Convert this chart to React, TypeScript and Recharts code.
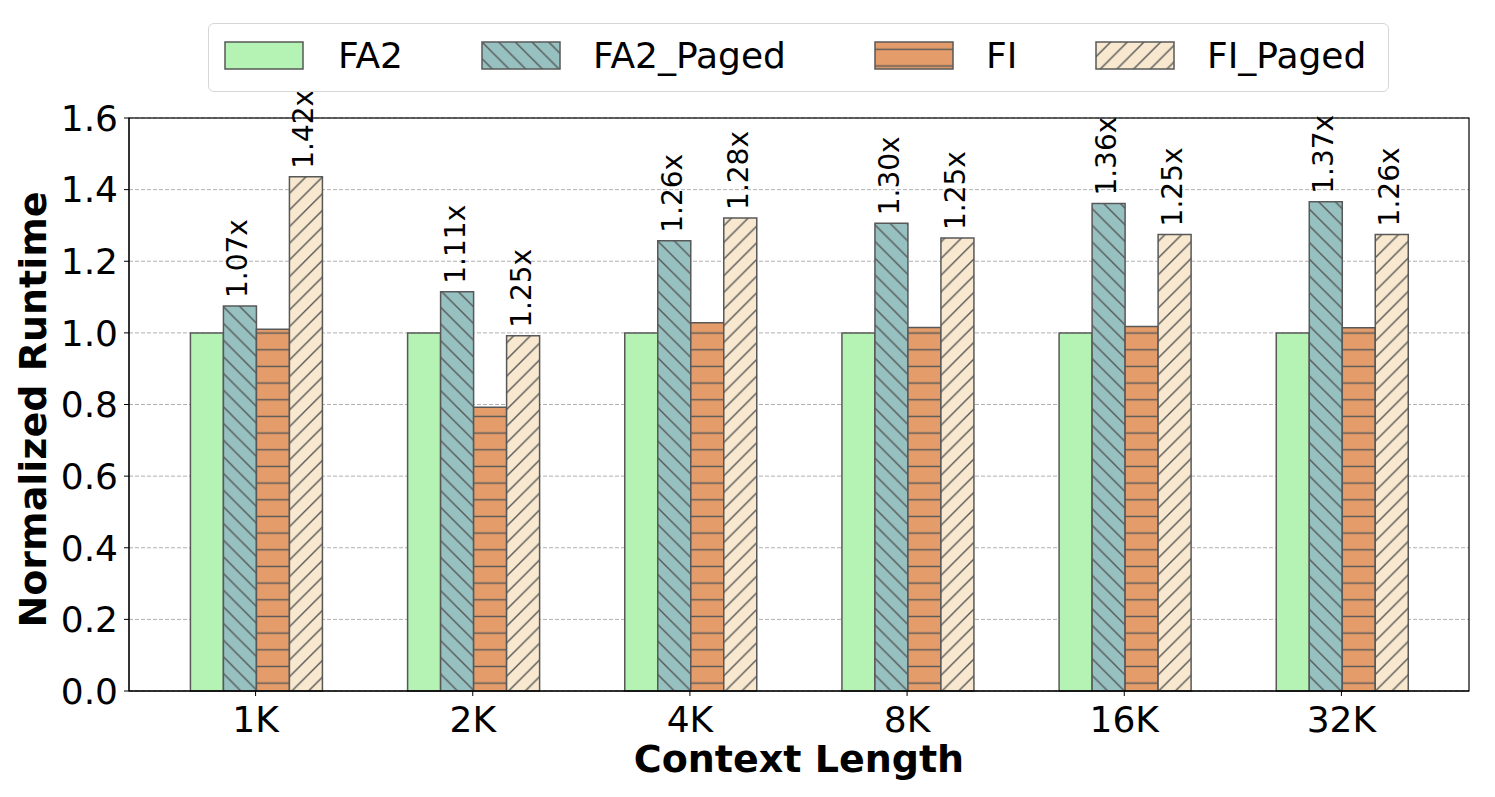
import { BarChart, Bar, XAxis, YAxis, CartesianGrid, LabelList } from 'recharts';

const categories = ['1K', '2K', '4K', '8K', '16K', '32K'];
const fa2 = [1.0, 1.0, 1.0, 1.0, 1.0, 1.0];
const fa2Paged = [1.075, 1.115, 1.257, 1.306, 1.361, 1.366];
const fi = [1.01, 0.792, 1.028, 1.015, 1.018, 1.014];
const fiPaged = [1.436, 0.992, 1.321, 1.265, 1.275, 1.275];
const fa2PagedLabels = ['1.07x', '1.11x', '1.26x', '1.30x', '1.36x', '1.37x'];
const fiPagedLabels = ['1.42x', '1.25x', '1.28x', '1.25x', '1.25x', '1.26x'];
const yTicks = [0, 0.2, 0.4, 0.6, 0.8, 1.0, 1.2, 1.4, 1.6];

const FONT = '"DejaVu Sans", sans-serif';
const EDGE = '#585858';
const HATCH = 16.67;

const W = 1479;
const H = 781;
const MARGIN = { top: 110, right: 18, left: 0, bottom: 0 };
const Y_AXIS_W = 121;
const X_AXIS_H = 98;

// series styling: fill colour + hatch kind
const series = [
  { key: 'fa2', name: 'FA2', color: '#b4f3b4', hatch: '' },
  { key: 'fa2Paged', name: 'FA2_Paged', color: '#97c1c1', hatch: '\\' },
  { key: 'fi', name: 'FI', color: '#e39c6a', hatch: '-' },
  { key: 'fiPaged', name: 'FI_Paged', color: '#f8e8cf', hatch: '/' },
];

// legend item x offsets inside the legend box (handle / text)
const legendSlots = [
  { handle: 16, text: 129 },
  { handle: 273, text: 384 },
  { handle: 666, text: 777 },
  { handle: 887, text: 998 },
];

const data = categories.map((c, i) => ({
  name: c,
  fa2: fa2[i],
  fa2Paged: fa2Paged[i],
  fi: fi[i],
  fiPaged: fiPaged[i],
  fa2PagedLabel: fa2PagedLabels[i],
  fiPagedLabel: fiPagedLabels[i],
}));

const hatchPath = (kind: string) => {
  const s = HATCH;
  if (kind === '/') {
    return `M0,${s} L${s},0 M${-s / 4},${s / 4} L${s / 4},${-s / 4} M${(3 * s) / 4},${(5 * s) / 4} L${(5 * s) / 4},${(3 * s) / 4}`;
  }
  if (kind === '\\') {
    return `M0,0 L${s},${s} M${-s / 4},${(3 * s) / 4} L${s / 4},${(5 * s) / 4} M${(3 * s) / 4},${-s / 4} L${(5 * s) / 4},${s / 4}`;
  }
  return `M0,${s / 2} L${s},${s / 2}`;
};

const Patterns = ({ prefix }: { prefix: string }) => (
  <defs>
    {series
      .filter((s) => s.hatch)
      .map((s) => (
        <pattern
          key={s.key}
          id={`${prefix}-${s.key}`}
          patternUnits="userSpaceOnUse"
          width={HATCH}
          height={HATCH}
        >
          <rect width={HATCH} height={HATCH} fill={s.color} />
          <path d={hatchPath(s.hatch)} stroke={EDGE} strokeWidth={1.4} fill="none" />
        </pattern>
      ))}
  </defs>
);

const fillFor = (prefix: string, s: (typeof series)[number]) =>
  s.hatch ? `url(#${prefix}-${s.key})` : s.color;

const RatioLabel = (props: any) => {
  const { x, y, width, value } = props;
  const cx = x + width / 2 - 2;
  const ty = y - 8;
  return (
    <text
      x={cx}
      y={ty}
      transform={`rotate(-90, ${cx}, ${ty})`}
      textAnchor="start"
      dominantBaseline="central"
      fontSize={28}
      fontFamily={FONT}
      fill="#000"
    >
      {value}
    </text>
  );
};

const Legend = () => (
  <div
    style={{
      position: 'absolute',
      left: 200,
      top: 15,
      width: 1181,
      height: 69,
      boxSizing: 'border-box',
      border: '1px solid #d6d6d6',
      borderRadius: 6,
      background: 'rgba(255,255,255,0.8)',
      fontFamily: FONT,
      fontSize: 36,
      color: '#000',
    }}
  >
    {series.map((s, i) => (
      <div key={s.key}>
        <svg
          width={80}
          height={29}
          style={{ position: 'absolute', left: legendSlots[i].handle - 1, top: 17 }}
        >
          <Patterns prefix={`lg${i}`} />
          <rect x={1} y={1} width={78} height={27} fill={fillFor(`lg${i}`, s)} stroke={EDGE} strokeWidth={1.5} />
        </svg>
        <div
          style={{
            position: 'absolute',
            left: legendSlots[i].text,
            top: 0,
            height: 63,
            display: 'flex',
            alignItems: 'center',
            whiteSpace: 'nowrap',
          }}
        >
          {s.name}
        </div>
      </div>
    ))}
  </div>
);

// axes frame (top and right spines), same box as the plot area
const Frame = () => {
  const x = MARGIN.left + Y_AXIS_W;
  const y = MARGIN.top;
  const w = W - x - MARGIN.right;
  const h = H - y - MARGIN.bottom - X_AXIS_H;
  return (
    <svg width={W} height={H} style={{ position: 'absolute', left: 0, top: 0, pointerEvents: 'none' }}>
      <rect x={x} y={y} width={w} height={h} fill="none" stroke="#000" strokeWidth={1.2} />
    </svg>
  );
};

export default function App() {
  return (
    <div style={{ position: 'relative', width: W, height: H, fontFamily: FONT }}>
      <BarChart
        width={W}
        height={H}
        data={data}
        margin={MARGIN}
        barCategoryGap="20%"
        barGap={0}
      >
        <Patterns prefix="bar" />
        <CartesianGrid vertical={false} stroke="#b0b0b0" strokeDasharray="4 2" strokeWidth={1} />
        <XAxis
          dataKey="name"
          height={X_AXIS_H}
          padding={{ left: 18, right: 19 }}
          tickSize={5}
          tickMargin={10}
          stroke="#000"
          tick={{ fontSize: 36, fill: '#000', fontFamily: FONT }}
          label={{
            content: (p: any) => (
              <text
                x={p.viewBox.x + p.viewBox.width / 2}
                y={p.viewBox.y + 81}
                textAnchor="middle"
                fontSize={38}
                fontWeight="bold"
                fontFamily={FONT}
                fill="#000"
              >
                Context Length
              </text>
            ),
          }}
        />
        <YAxis
          width={Y_AXIS_W}
          domain={[0, 1.6]}
          ticks={yTicks}
          tickFormatter={(v: number) => v.toFixed(1)}
          tickSize={5}
          tickMargin={6}
          stroke="#000"
          tick={{ fontSize: 36, fill: '#000', fontFamily: FONT }}
          label={{
            content: (p: any) => {
              const lx = p.viewBox.x + 38;
              const ly = p.viewBox.y + p.viewBox.height / 2 + 5;
              return (
                <text
                  x={lx}
                  y={ly}
                  transform={`rotate(-90, ${lx}, ${ly})`}
                  textAnchor="middle"
                  fontSize={38}
                  fontWeight="bold"
                  fontFamily={FONT}
                  fill="#000"
                >
                  Normalized Runtime
                </text>
              );
            },
          }}
        />
        {series.map((s) => (
          <Bar
            key={s.key}
            dataKey={s.key}
            name={s.name}
            fill={fillFor('bar', s)}
            stroke={EDGE}
            strokeWidth={1.5}
            isAnimationActive={false}
          >
            {s.key === 'fa2Paged' && <LabelList dataKey="fa2PagedLabel" content={RatioLabel} />}
            {s.key === 'fiPaged' && <LabelList dataKey="fiPagedLabel" content={RatioLabel} />}
          </Bar>
        ))}
      </BarChart>
      <Frame />
      <Legend />
    </div>
  );
}
